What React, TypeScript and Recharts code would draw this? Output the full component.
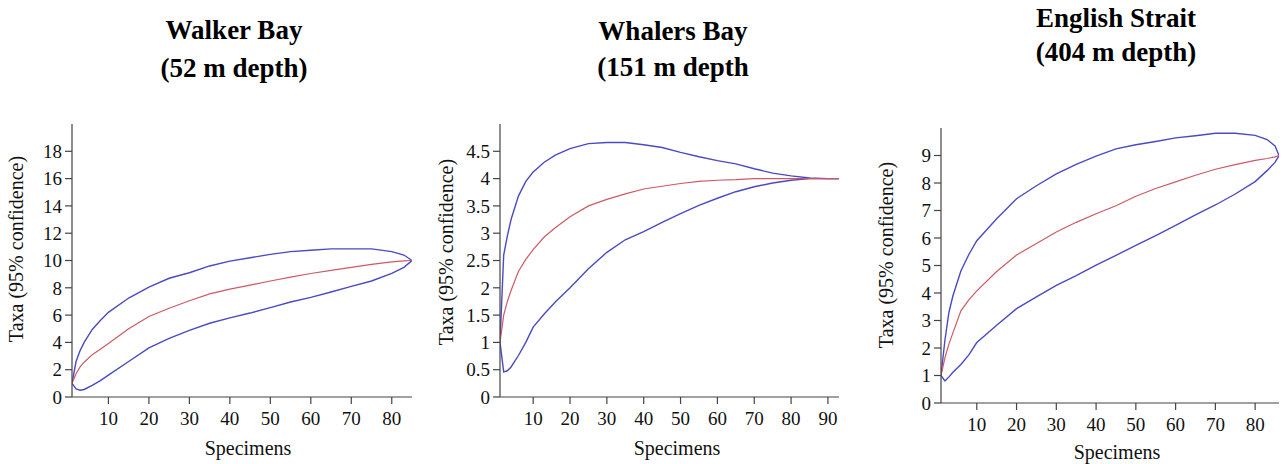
import React from 'react';
import { LineChart, Line, XAxis, YAxis } from 'recharts';

// ---------- Walker Bay (52 m) ----------
const walkerSpecimens = [1, 2, 3, 4, 6, 8, 10, 15, 20, 25, 30, 35, 40, 45, 50, 55, 60, 65, 70, 75, 80, 83, 85];
const walkerUpper = [1, 2.6, 3.4, 4.0, 4.95, 5.6, 6.2, 7.25, 8.05, 8.7, 9.1, 9.6, 9.95, 10.2, 10.45, 10.65, 10.75, 10.85, 10.85, 10.85, 10.65, 10.4, 10];
const walkerMean = [1, 1.7, 2.2, 2.55, 3.1, 3.5, 3.92, 5.0, 5.9, 6.5, 7.05, 7.55, 7.9, 8.2, 8.5, 8.78, 9.05, 9.27, 9.5, 9.72, 9.9, 9.97, 10];
const walkerLower = [1, 0.6, 0.5, 0.55, 0.85, 1.2, 1.6, 2.6, 3.6, 4.3, 4.88, 5.4, 5.8, 6.15, 6.55, 6.96, 7.3, 7.69, 8.1, 8.5, 9.05, 9.5, 10];
const walkerXTicks = [10, 20, 30, 40, 50, 60, 70, 80];
const walkerYTicks = [0, 2, 4, 6, 8, 10, 12, 14, 16, 18];

// ---------- Whalers Bay (151 m) ----------
const whalersSpecimens = [1, 2, 3, 4, 6, 8, 10, 13, 16, 20, 25, 30, 35, 40, 45, 50, 55, 60, 65, 70, 75, 80, 85, 90, 93];
const whalersUpper = [1, 2.6, 2.95, 3.25, 3.68, 3.95, 4.12, 4.3, 4.43, 4.55, 4.64, 4.66, 4.66, 4.62, 4.57, 4.48, 4.4, 4.33, 4.27, 4.18, 4.1, 4.05, 4.01, 4, 4];
const whalersMean = [1, 1.5, 1.75, 1.95, 2.3, 2.52, 2.7, 2.93, 3.1, 3.3, 3.5, 3.62, 3.72, 3.81, 3.86, 3.91, 3.95, 3.97, 3.98, 4, 4, 4, 4, 4, 4];
const whalersLower = [1, 0.46, 0.48, 0.55, 0.76, 1.0, 1.28, 1.52, 1.74, 2.0, 2.35, 2.65, 2.88, 3.03, 3.2, 3.36, 3.51, 3.64, 3.76, 3.85, 3.92, 3.97, 4, 4, 4];
const whalersXTicks = [10, 20, 30, 40, 50, 60, 70, 80, 90];
const whalersYTicks = [0, 0.5, 1, 1.5, 2, 2.5, 3, 3.5, 4, 4.5];

// ---------- English Strait (404 m) ----------
const englishSpecimens = [1, 2, 3, 4, 6, 8, 10, 15, 20, 25, 30, 35, 40, 45, 50, 55, 60, 65, 70, 75, 80, 83, 85, 86];
const englishUpper = [1, 2.3, 3.3, 3.9, 4.8, 5.4, 5.9, 6.7, 7.43, 7.9, 8.33, 8.68, 8.98, 9.24, 9.39, 9.51, 9.64, 9.72, 9.81, 9.81, 9.73, 9.58, 9.35, 9.0];
const englishMean = [1, 1.65, 2.15, 2.55, 3.35, 3.75, 4.08, 4.78, 5.38, 5.8, 6.22, 6.57, 6.88, 7.17, 7.52, 7.8, 8.04, 8.28, 8.5, 8.67, 8.82, 8.89, 8.95, 9.0];
const englishLower = [1, 0.8, 0.95, 1.12, 1.4, 1.75, 2.2, 2.83, 3.43, 3.86, 4.28, 4.63, 5.01, 5.37, 5.73, 6.09, 6.46, 6.84, 7.2, 7.6, 8.05, 8.45, 8.75, 9.0];
const englishXTicks = [10, 20, 30, 40, 50, 60, 70, 80];
const englishYTicks = [0, 1, 2, 3, 4, 5, 6, 7, 8, 9];

const FONT = "'Liberation Serif', 'Times New Roman', serif";
const BLUE = '#4a4ac4';
const RED = '#cc5a64';
const AXIS = '#444';
const TICK_SIZE = 19;

function rows(xs: number[], up: number[], mean: number[], low: number[]) {
  return xs.map((x, i) => ({ x, upper: up[i], mean: mean[i], lower: low[i] }));
}

type PanelProps = {
  left: number;
  width: number;
  top: number;
  right: number;
  yAxisWidth: number;
  xAxisHeight: number;
  data: any[];
  xDomain: [number, number];
  yDomain: [number, number];
  xTicks: number[];
  yTicks: number[];
  yLabelPos: [number, number];
  xLabelPos: [number, number];
};

const textStyle = { fontFamily: FONT };

const XTick = (props: any) => (
  <text
    x={props.x}
    y={props.y}
    dy="0.71em"
    textAnchor="middle"
    fontSize={TICK_SIZE}
    style={textStyle}
    fill="#111"
  >
    {props.payload.value}
  </text>
);

const YTick = (props: any) => (
  <text
    x={props.x}
    y={props.y}
    dy="0.355em"
    textAnchor="end"
    fontSize={TICK_SIZE}
    style={textStyle}
    fill="#111"
  >
    {props.payload.value}
  </text>
);

function Panel(p: PanelProps) {
  return (
    <div style={{ position: 'absolute', left: p.left, top: 0, fontFamily: FONT }}>
      <LineChart
        width={p.width}
        height={464}
        data={p.data}
        margin={{ top: p.top, right: p.right, left: 0, bottom: 0 }}
      >
        <XAxis
          type="number"
          dataKey="x"
          domain={p.xDomain}
          ticks={p.xTicks}
          allowDataOverflow
          height={p.xAxisHeight}
          tickSize={7}
          tickMargin={8}
          tick={XTick}
          axisLine={{ stroke: AXIS, strokeWidth: 1.2 }}
          tickLine={{ stroke: AXIS, strokeWidth: 1.2 }}
          label={() => (
            <text
              x={p.xLabelPos[0]}
              y={p.xLabelPos[1]}
              textAnchor="middle"
              fontSize={20}
              style={textStyle}
              fill="#111"
            >
              Specimens
            </text>
          )}
        />
        <YAxis
          type="number"
          domain={p.yDomain}
          ticks={p.yTicks}
          allowDataOverflow
          width={p.yAxisWidth}
          tickSize={7}
          tickMargin={3}
          tick={YTick}
          axisLine={{ stroke: AXIS, strokeWidth: 1.2 }}
          tickLine={{ stroke: AXIS, strokeWidth: 1.2 }}
          label={() => (
            <text
              x={p.yLabelPos[0]}
              y={p.yLabelPos[1]}
              transform={`rotate(-90 ${p.yLabelPos[0]} ${p.yLabelPos[1]})`}
              textAnchor="middle"
              fontSize={20}
              style={textStyle}
              fill="#111"
            >
              Taxa (95% confidence)
            </text>
          )}
        />
        <Line type="linear" dataKey="upper" stroke={BLUE} strokeWidth={1.4} dot={false} isAnimationActive={false} />
        <Line type="linear" dataKey="lower" stroke={BLUE} strokeWidth={1.4} dot={false} isAnimationActive={false} />
        <Line type="linear" dataKey="mean" stroke={RED} strokeWidth={1.2} dot={false} isAnimationActive={false} />
      </LineChart>
    </div>
  );
}

function Title({ center, top, lineHeight, lines }: { center: number; top: number; lineHeight: number; lines: string[] }) {
  return (
    <div
      style={{
        position: 'absolute',
        left: center - 150,
        width: 300,
        top,
        textAlign: 'center',
        fontFamily: FONT,
        fontWeight: 'bold',
        fontSize: 27,
        lineHeight: `${lineHeight}px`,
        color: '#000',
      }}
    >
      {lines.map((l) => (
        <div key={l}>{l}</div>
      ))}
    </div>
  );
}

export default function App() {
  return (
    <div style={{ position: 'absolute', left: 0, top: 0, width: 1283, height: 464, background: '#fff', overflow: 'hidden', fontFamily: FONT }}>
      <Title center={234} top={11} lineHeight={38} lines={['Walker Bay', '(52 m depth)']} />
      <Title center={673} top={13} lineHeight={36} lines={['Whalers Bay', '(151 m depth']} />
      <Title center={1116} top={1} lineHeight={34} lines={['English Strait', '(404 m depth)']} />
      <Panel
        left={0}
        width={430}
        top={124}
        right={18}
        yAxisWidth={72}
        xAxisHeight={67}
        data={rows(walkerSpecimens, walkerUpper, walkerMean, walkerLower)}
        xDomain={[1, 85]}
        yDomain={[0, 20]}
        xTicks={walkerXTicks}
        yTicks={walkerYTicks}
        yLabelPos={[22.5, 249]}
        xLabelPos={[248, 455]}
      />
      <Panel
        left={430}
        width={430}
        top={124}
        right={21}
        yAxisWidth={70}
        xAxisHeight={67}
        data={rows(whalersSpecimens, whalersUpper, whalersMean, whalersLower)}
        xDomain={[1, 93]}
        yDomain={[0, 5]}
        xTicks={whalersXTicks}
        yTicks={whalersYTicks}
        yLabelPos={[22.5, 252]}
        xLabelPos={[247, 455]}
      />
      <Panel
        left={860}
        width={423}
        top={128}
        right={4}
        yAxisWidth={81}
        xAxisHeight={61}
        data={rows(englishSpecimens, englishUpper, englishMean, englishLower)}
        xDomain={[1, 86]}
        yDomain={[0, 10]}
        xTicks={englishXTicks}
        yTicks={englishYTicks}
        yLabelPos={[32.5, 255]}
        xLabelPos={[257, 459]}
      />
    </div>
  );
}
